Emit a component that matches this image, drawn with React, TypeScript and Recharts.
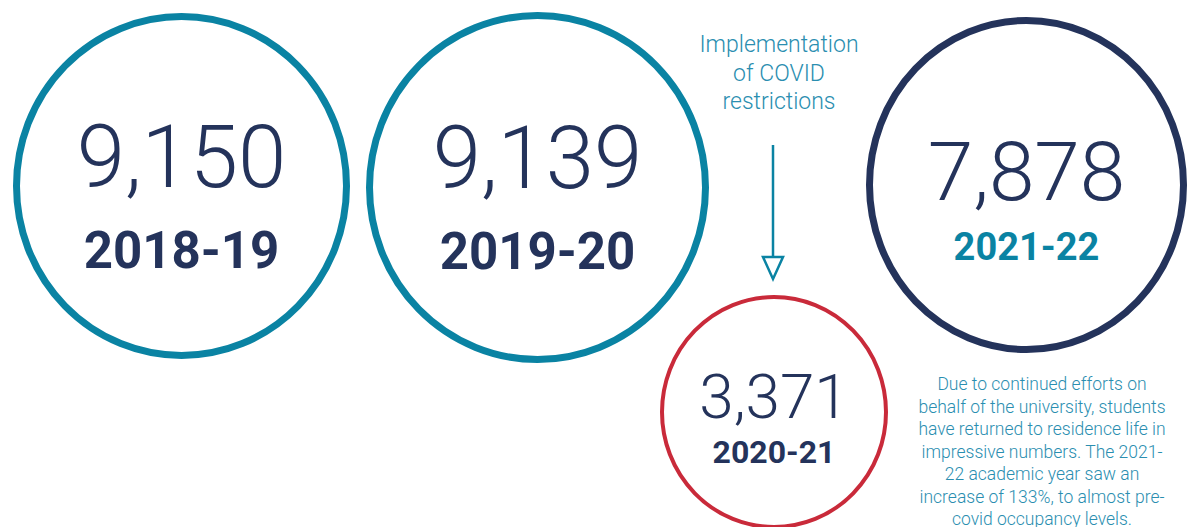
import React from 'react';
import { ScatterChart, Scatter, XAxis, YAxis, ZAxis } from 'recharts';

// Residents per academic year
const YEARS = ['2018-19', '2019-20', '2020-21', '2021-22'];
const RESIDENTS = [9150, 9139, 3371, 7878];

// Ring look
const RING_COLORS = ['#0a83a3', '#0a83a3', '#c92a3a', '#24335b'];
const YEAR_COLORS = ['#24335b', '#24335b', '#24335b', '#0a83a3'];

// Layout (pixel units of the chart area)
const CENTER_X = [181.5, 537.5, 774, 1026.5];
const CENTER_Y = [186, 187.5, 412, 185];
const RX = [165, 168, 112, 157];
const RY = [169.5, 172, 115, 164.5];
const RING_WIDTHS = [7, 7, 4, 7];
const VALUE_SIZES = [87, 87, 62, 82];
const VALUE_DY = [1, 0, 6, 15];
const YEAR_SIZES = [51, 51, 32, 38];
const YEAR_DY = [82, 81, 51, 75];

const NOTE_LINES = ['Implementation', 'of COVID', 'restrictions'];
const PARAGRAPH_LINES = [
  'Due to continued efforts on',
  'behalf of the university, students',
  'have returned to residence life in',
  'impressive numbers. The 2021-',
  '22 academic year saw an',
  'increase of 133%, to almost pre-',
  'covid occupancy levels.',
];

const W = 1188;
const H = 527;
const TEAL_TEXT = '#2a8eb0';

const rings = YEARS.map((year, i) => ({
  year,
  value: RESIDENTS[i],
  x: CENTER_X[i],
  y: CENTER_Y[i],
  i,
}));

const notes = [{ x: 779, y: 52, kind: 'note' }];
const paragraphs = [{ x: 1042, y: 390, kind: 'para' }];

const RingShape = (props: any) => {
  const { cx, cy, payload } = props;
  const i = payload.i;
  return (
    <g>
      <ellipse cx={cx} cy={cy} rx={RX[i]} ry={RY[i]} fill="none" stroke={RING_COLORS[i]} strokeWidth={RING_WIDTHS[i]} />
      <text x={cx} y={cy + VALUE_DY[i]} textAnchor="middle" fontFamily="Roboto" fontWeight={300} fontSize={VALUE_SIZES[i]} fill="#24335b">
        {payload.value.toLocaleString('en-US')}
      </text>
      <text x={cx} y={cy + YEAR_DY[i]} textAnchor="middle" fontFamily="Roboto" fontWeight={700} fontSize={YEAR_SIZES[i]} fill={YEAR_COLORS[i]}>
        {payload.year}
      </text>
    </g>
  );
};

const NoteShape = (props: any) => {
  const { cx, cy } = props;
  const ax = cx - 6;
  return (
    <g>
      {NOTE_LINES.map((line, k) => (
        <text key={k} x={cx} y={cy + k * 28.5} textAnchor="middle" fontFamily="Roboto" fontWeight={300} fontSize={23} fill={TEAL_TEXT}>
          {line}
        </text>
      ))}
      <line x1={ax} y1={cy + 93} x2={ax} y2={cy + 205} stroke="#0a83a3" strokeWidth={2.5} />
      <polygon points={`${ax - 10},${cy + 205} ${ax + 10},${cy + 205} ${ax},${cy + 227}`} fill="#fff" stroke="#0a83a3" strokeWidth={2.5} />
    </g>
  );
};

const ParagraphShape = (props: any) => {
  const { cx, cy } = props;
  return (
    <g>
      {PARAGRAPH_LINES.map((line, k) => (
        <text key={k} x={cx} y={cy + k * 22.5} textAnchor="middle" fontFamily="Roboto" fontWeight={300} fontSize={17.5} fill={TEAL_TEXT}>
          {line}
        </text>
      ))}
    </g>
  );
};

export default function App() {
  return (
    <div style={{ position: 'absolute', left: 0, top: 0, width: W, height: H, background: '#fff', overflow: 'hidden' }}>
      <ScatterChart width={W} height={H} margin={{ top: 0, right: 0, bottom: 0, left: 0 }}>
        <XAxis type="number" dataKey="x" domain={[0, W]} hide />
        <YAxis type="number" dataKey="y" domain={[0, H]} reversed hide />
        <ZAxis range={[1, 1]} />
        <Scatter data={rings} shape={RingShape} isAnimationActive={false} />
        <Scatter data={notes} shape={NoteShape} isAnimationActive={false} />
        <Scatter data={paragraphs} shape={ParagraphShape} isAnimationActive={false} />
      </ScatterChart>
    </div>
  );
}
